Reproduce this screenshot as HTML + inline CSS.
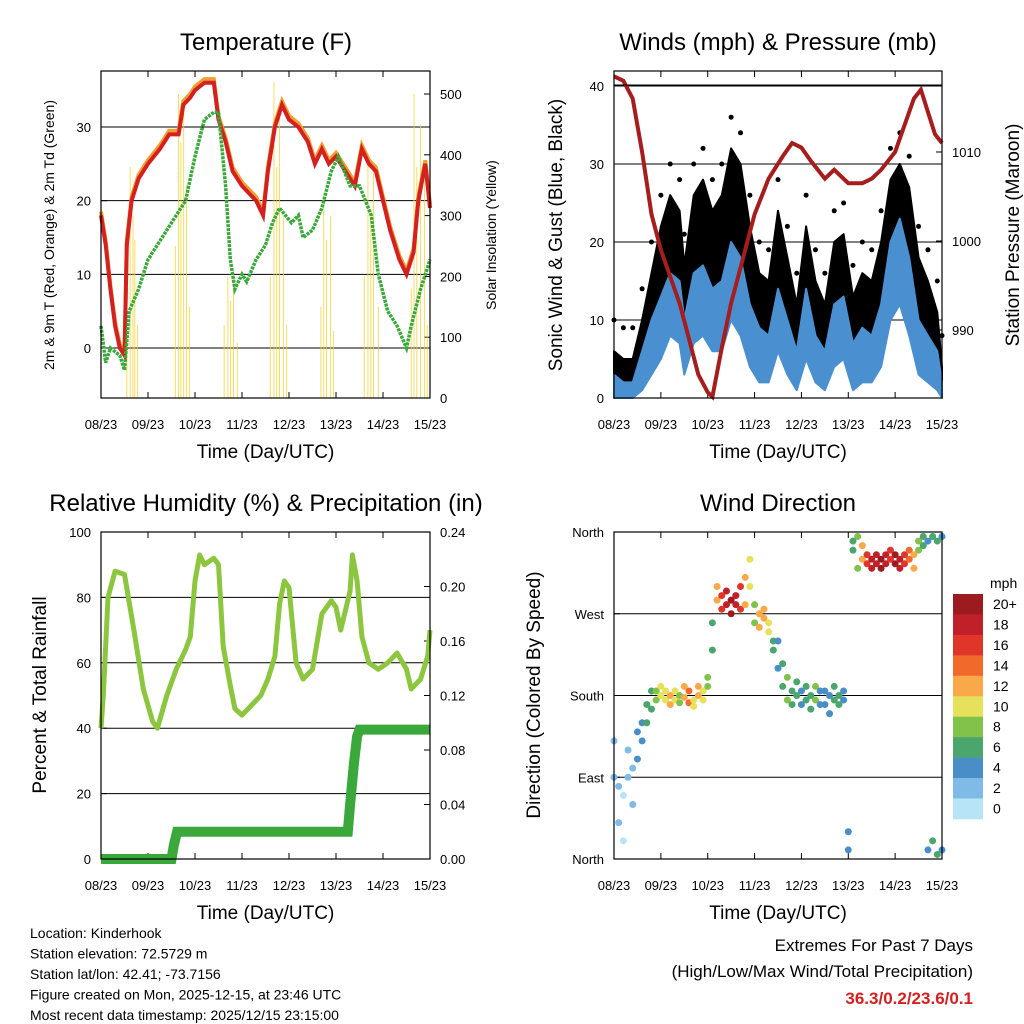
<!DOCTYPE html>
<html><head><meta charset="utf-8"><style>
body{margin:0;background:#fff;}
svg{display:block;font-family:"Liberation Sans",sans-serif;}
</style></head><body>
<svg id="c" width="1024" height="1024" viewBox="0 0 1024 1024"></svg>
<script>
// ---------- data ----------
const dayLabels=["08/23","09/23","10/23","11/23","12/23","13/23","14/23","15/23"];
const tTimes=[0,0.1,0.2,0.3,0.4,0.5,0.55,0.65,0.8,1.0,1.25,1.45,1.65,1.75,1.9,2.0,2.2,2.4,2.5,2.65,2.8,3.0,3.15,3.3,3.45,3.55,3.7,3.85,4.0,4.2,4.4,4.55,4.7,4.85,5.0,5.2,5.4,5.55,5.7,5.85,6.0,6.15,6.35,6.5,6.65,6.75,6.9,7.0];
const tempRed=[18,14,8,3,0,-1,14,20,23,25,27,29,29,33,34,35,36,36,31,28,24,22,21,20,18,24,30,33,31,30,28,25,27,25,26,24,22,27,25,24,20,16,12,10,13,20,25,19];
const tdTimes=[0,0.1,0.2,0.4,0.5,0.6,0.8,1.0,1.3,1.5,1.8,2.0,2.2,2.4,2.5,2.65,2.75,2.85,3.0,3.1,3.3,3.5,3.65,3.8,4.05,4.2,4.3,4.5,4.7,4.9,5.05,5.3,5.5,5.75,5.9,6.1,6.3,6.5,6.6,6.8,6.95,7.0];
const tempGreen=[3,-2,0,-1,-3,5,8,12,15,17,20,26,31,32,32,22,12,8,10,9,12,14,17,19,17,18,15,16,19,24,26,22,22,18,10,5,3,0,3,8,11,12];
const solarTimes=[0.55,0.62,0.68,0.72,0.78,1.58,1.65,1.7,1.76,1.82,1.88,2.62,2.7,2.76,2.82,2.9,3.6,3.68,3.74,3.8,3.88,3.95,4.68,4.74,4.8,4.88,4.95,5.6,5.68,5.74,5.8,5.9,6.6,6.66,6.72,6.8,6.88,6.94];
const solarVals=[150,380,300,260,120,250,500,420,480,350,150,120,200,160,210,90,200,520,380,480,300,120,150,330,260,300,110,200,400,300,380,150,180,500,380,450,360,120];
const windTimes=[0,0.2,0.4,0.6,0.8,1.0,1.2,1.4,1.5,1.7,1.9,2.1,2.3,2.5,2.7,2.9,3.1,3.3,3.5,3.7,3.9,4.1,4.3,4.5,4.7,4.9,5.1,5.3,5.5,5.7,5.9,6.1,6.3,6.5,6.7,6.9,7.0];
const windBlue=[3,2,2,6,10,13,16,15,10,16,17,14,15,20,18,12,9,8,14,10,6,14,8,6,12,13,7,9,8,12,20,23,18,10,8,6,2];
const windLow=[0,0,0,1,3,5,8,7,3,7,8,6,6,10,8,4,2,2,6,3,1,5,2,1,4,5,1,2,2,4,10,12,8,3,2,1,0];
const windGust=[6,5,5,10,16,22,26,24,17,26,28,24,26,32,30,22,16,15,24,18,12,22,15,12,20,21,13,16,15,20,28,30,27,18,15,11,4];
const presTimes=[0,0.2,0.4,0.6,0.8,1.0,1.2,1.4,1.6,1.8,2.0,2.1,2.3,2.5,2.7,3.0,3.3,3.6,3.8,4.0,4.2,4.5,4.7,5.0,5.3,5.5,5.7,6.0,6.2,6.4,6.55,6.7,6.85,7.0];
const pressure=[1018.5,1018,1016,1010,1003,999,996,993,989,985,983,982.5,988,993,997,1003,1007,1009.5,1011,1010.5,1009,1007,1008,1006.5,1006.5,1007,1008,1010,1013,1016,1017,1014.5,1012,1011];
const rhTimes=[0,0.05,0.15,0.3,0.5,0.7,0.9,1.0,1.1,1.2,1.4,1.6,1.8,1.9,2.0,2.1,2.2,2.4,2.5,2.6,2.75,2.85,3.0,3.2,3.4,3.55,3.7,3.8,3.9,4.0,4.15,4.3,4.5,4.7,4.9,5.0,5.1,5.3,5.35,5.45,5.55,5.7,5.9,6.1,6.3,6.5,6.6,6.8,6.95,7.0];
const rh=[40,50,80,88,87,70,52,47,42,40,50,58,64,68,85,93,90,92,90,65,53,46,44,47,50,55,62,78,85,83,60,55,58,75,79,77,70,82,93,85,68,60,58,60,63,58,52,55,62,70];
const prTimes=[0,1.5,1.55,1.62,3.0,5.25,5.3,5.38,5.45,5.5,7.0];
const precip=[0,0,0.01,0.02,0.02,0.02,0.04,0.07,0.09,0.095,0.095];
const dirTimes=[0,0.1,0.2,0.3,0.4,0.5,0.6,0.7,0.8,0.9,1.0,1.1,1.2,1.3,1.4,1.5,1.6,1.7,1.8,1.9,2.0,2.1,2.2,2.3,2.4,2.5,2.6,2.7,2.8,2.9,3.0,3.1,3.2,3.3,3.4,3.5,3.6,3.7,3.8,3.9,4.0,4.1,4.2,4.3,4.4,4.5,4.6,4.7,4.8,4.9,5.0,5.1,5.2,5.3,5.4,5.5,5.6,5.7,5.8,5.9,6.0,6.1,6.2,6.3,6.4,6.5,6.6,6.7,6.8,6.9,7.0];
const dirA=[90,80,70,90,100,110,130,150,165,175,180,175,180,185,180,178,172,175,180,185,190,230,285,290,280,285,290,275,310,330,260,270,275,260,230,210,190,175,185,180,170,190,180,175,185,170,180,175,170,185,10,340,320,330,335,330,325,330,335,330,325,330,335,330,320,350,355,10,20,5,355];
const dirB=[130,40,20,120,60,140,150,170,185,185,190,185,170,175,172,190,185,168,190,175,200,260,300,275,295,270,280,300,280,300,280,255,265,250,240,240,215,200,170,195,185,175,165,190,170,185,160,190,180,175,30,350,355,345,325,320,335,320,325,340,335,320,325,340,335,340,345,350,355,350,10];
const dirSpeed=[3,2,1,3,3,4,5,6,7,9,10,11,12,10,9,12,14,11,12,10,8,6,12,16,19,20,18,16,12,10,8,12,13,10,6,5,6,8,7,6,5,7,6,8,5,4,4,6,7,5,4,6,8,12,16,18,19,20,18,17,20,18,16,14,12,8,7,5,6,7,5];
const cbLabels=["20+","18","16","14","12","10","8","6","4","2","0"];
const cbColors=["#9b1b1e","#c0202a","#e0362a","#f26a2b","#f9a94a","#e6e05a","#80c24a","#4aa66c","#4a8ec8","#7fbbe6","#b8e4f7"];

// ---------- helpers ----------
const svg=document.getElementById('c');
const NS="http://www.w3.org/2000/svg";
function mk(tag,attrs,parent,txt){const e=document.createElementNS(NS,tag);for(const k in attrs)e.setAttribute(k,attrs[k]);if(txt!==undefined)e.textContent=txt;(parent||svg).appendChild(e);return e;}
function lin(d0,d1,r0,r1){return v=>r0+(v-d0)*(r1-r0)/(d1-d0);}
function speedColor(s){let i=Math.min(10,Math.floor(s/2));return cbColors[10-i];}

function panel(name,x0,y0,x1,y1,title,titleX){
  const g=mk('g',{});
  
  
  const t=mk('text',{x:titleX,y:y0-21,'font-size':24,'text-anchor':'middle'},g,title);
  
  
  const xs=lin(0,7,x0,x1);
  dayLabels.forEach((l,i)=>{
    const x=xs(i);
    mk('line',{x1:x,x2:x,y1:y1,y2:y1-6,stroke:'#000'},g);
    mk('line',{x1:x,x2:x,y1:y0,y2:y0+6,stroke:'#000'},g);
    const tl=mk('text',{x:x,y:y1+31,'font-size':13,'text-anchor':'middle'},g,l);
    
    
  });
  const xt=mk('text',{x:(x0+x1)/2,y:y1+60,'font-size':19,'text-anchor':'middle'},g,'Time (Day/UTC)');
  
  
  return {g,xs};
}
function frame(g,x0,y0,x1,y1){mk('rect',{x:x0,y:y0,width:x1-x0,height:y1-y0,fill:'none',stroke:'#000','stroke-width':1.2},g);}
function hgrid(g,x0,x1,y){mk('line',{x1:x0,x2:x1,y1:y,y2:y,stroke:'#000','stroke-width':1},g);}
function ytick(g,x,y,label,side,name){
  const dx=side==='l'?-1:1;
  mk('line',{x1:x,x2:x-dx*6,y1:y,y2:y,stroke:'#000'},g);
  const t=mk('text',{x:x+dx*10,y:y+5,'font-size':13,'text-anchor':side==='l'?'end':'start'},g,label);
  
  
}
function vtitle(g,x,y,txt,size,name){
  const t=mk('text',{x:x,y:y,'font-size':size,'text-anchor':'middle',transform:`rotate(-90 ${x} ${y})`},g,txt);
  
  
}
function path(g,xs,ys,tx,vals,attrs,name){
  let d='';tx.forEach((t,i)=>{d+=(i?'L':'M')+xs(t).toFixed(1)+','+ys(vals[i]).toFixed(1);});
  const p=mk('path',Object.assign({d:d,fill:'none'},attrs),g);
  
  
  return p;
}
function area(g,xs,ys,tx,lo,hi,fill,name){
  let d='';
  tx.forEach((t,i)=>{d+=(i?'L':'M')+xs(t).toFixed(1)+','+ys(hi[i]).toFixed(1);});
  for(let i=tx.length-1;i>=0;i--){d+='L'+xs(tx[i]).toFixed(1)+','+ys(lo[i]).toFixed(1);}
  const p=mk('path',{d:d+'Z',fill:fill,stroke:fill,'stroke-width':2,'stroke-linejoin':'round'},g);
  
  
  return p;
}

// ---------- Panel 1: Temperature ----------
(function(){
  const x0=101,y0=71,x1=430,y1=398;
  const P=panel('temperature-panel',x0,y0,x1,y1,'Temperature (F)',266);
  const g=P.g,xs=P.xs;
  const ys=lin(0,30,348,127), ys2=lin(0,500,398,94);
  [0,10,20,30].forEach(v=>{hgrid(g,x0,x1,ys(v));ytick(g,x0,ys(v),v,'l','y-tick-label');});
  [0,100,200,300,400,500].forEach(v=>ytick(g,x1,ys2(v),v,'r','y2-tick-label'));
  const sg=mk('g',{},g);
  
  
  solarTimes.forEach((t,i)=>{
    const x=xs(t);
    const l=mk('line',{x1:x,x2:x,y1:y1,y2:ys2(solarVals[i]),stroke:'#f5d33a','stroke-width':0.8},sg);
    
    
  });
  path(g,xs,ys,tTimes,tempRed.map(v=>v+0.5),{stroke:'#f0a030','stroke-width':4},'temp-9m-orange-series');
  path(g,xs,ys,tTimes,tempRed,{stroke:'#d42020','stroke-width':4},'temp-2m-red-series');
  path(g,xs,ys,tdTimes,tempGreen,{stroke:'#3aa83a','stroke-width':3.5,'stroke-dasharray':'3 1'},'dewpoint-green-series');
  frame(g,x0,y0,x1,y1);
  vtitle(g,54,235,'2m & 9m T (Red, Orange) & 2m Td (Green)',14,'y-axis-title');
  vtitle(g,496,235,'Solar Insolation (Yellow)',14,'y2-axis-title');
})();

// ---------- Panel 2: Winds ----------
(function(){
  const x0=614,y0=71,x1=942,y1=398;
  const P=panel('winds-panel',x0,y0,x1,y1,'Winds (mph) & Pressure (mb)',778);
  const g=P.g,xs=P.xs;
  const ys=lin(0,40,398,86), ys2=lin(990,1010,330,152);
  [0,10,20,30,40].forEach(v=>{hgrid(g,x0,x1,ys(v));ytick(g,x0,ys(v),v,'l','y-tick-label');});
  [990,1000,1010].forEach(v=>ytick(g,x1,ys2(v),v,'r','y2-tick-label'));
  const gg=mk('g',{},g);
  
  
  area(gg,xs,ys,windTimes,windBlue,windGust,'#000','gust-band');
  windTimes.forEach((t,i)=>{
    const c=mk('circle',{cx:xs(t),cy:ys(windGust[i]+4),r:2.5,fill:'#000'},gg);
    
    
  });
  area(g,xs,ys,windTimes,windLow,windBlue,'#4a90d0','wind-speed-series');
  path(g,xs,ys2,presTimes,pressure,{stroke:'#a51d1d','stroke-width':4},'pressure-series');
  mk('line',{x1:x0,x2:x1,y1:y0+14,y2:y0+14,stroke:'#000'},g);
  frame(g,x0,y0,x1,y1);
  vtitle(g,562,235,'Sonic Wind & Gust (Blue, Black)',19,'y-axis-title');
  vtitle(g,1019,235,'Station Pressure (Maroon)',19,'y2-axis-title');
})();

// ---------- Panel 3: RH ----------
(function(){
  const x0=101,y0=532,x1=430,y1=859;
  const P=panel('humidity-panel',x0,y0,x1,y1,'Relative Humidity (%) & Precipitation (in)',266);
  const g=P.g,xs=P.xs;
  const ys=lin(0,100,859,532), ys2=lin(0,0.24,859,532);
  [0,20,40,60,80,100].forEach(v=>{if(v>0&&v<100)hgrid(g,x0,x1,ys(v));ytick(g,x0,ys(v),v,'l','y-tick-label');});
  [0,0.04,0.08,0.12,0.16,0.20,0.24].forEach(v=>ytick(g,x1,ys2(v),v.toFixed(2),'r','y2-tick-label'));
  path(g,xs,ys,rhTimes,rh,{stroke:'#8cc63f','stroke-width':5,'stroke-linejoin':'round'},'humidity-series');
  path(g,xs,ys2,prTimes,precip,{stroke:'#3aa83a','stroke-width':10},'precip-series');
  frame(g,x0,y0,x1,y1);
  vtitle(g,46,695,'Percent & Total Rainfall',19,'y-axis-title');
})();

// ---------- Panel 4: Wind direction ----------
(function(){
  const x0=614,y0=532,x1=942,y1=859;
  const P=panel('wind-direction-panel',x0,y0,x1,y1,'Wind Direction',778);
  const g=P.g,xs=P.xs;
  const ys=lin(0,360,859,532);
  [[0,'North'],[90,'East'],[180,'South'],[270,'West'],[360,'North']].forEach(([v,l])=>{if(v>0&&v<360)hgrid(g,x0,x1,ys(v));ytick(g,x0,ys(v),l,'l','y-tick-label');});
  const pg=mk('g',{},g);
  
  
  dirTimes.forEach((t,i)=>{
    [dirA[i],dirB[i]].forEach(d=>{
      const c=mk('circle',{cx:xs(t),cy:ys(d),r:3.5,fill:speedColor(dirSpeed[i])},pg);
      
      
    });
  });
  frame(g,x0,y0,x1,y1);
  vtitle(g,540,695,'Direction (Colored By Speed)',19,'y-axis-title');
  const cb=mk('g',{},svg);
  
  
  const u=mk('text',{x:990,y:588,'font-size':14},cb,'mph');
  
  
  cbLabels.forEach((l,i)=>{
    const y=594+i*20.45;
    const r=mk('rect',{x:953,y:y,width:30,height:20.8,fill:cbColors[i]},cb);
    
    
    const t=mk('text',{x:993,y:y+15,'font-size':14},cb,l);
    
    
  });
})();

// ---------- footer text ----------
const info=["Location: Kinderhook","Station elevation: 72.5729 m","Station lat/lon: 42.41; -73.7156","Figure created on Mon, 2025-12-15, at 23:46 UTC","Most recent data timestamp: 2025/12/15 23:15:00"];
info.forEach((s,i)=>{
  const t=mk('text',{x:30,y:938+i*20.5,'font-size':14},svg,s);
  
  
});
const e1=mk('text',{x:973,y:951,'font-size':17,'text-anchor':'end'},svg,'Extremes For Past 7 Days');


const e2=mk('text',{x:973,y:977,'font-size':17,'text-anchor':'end'},svg,'(High/Low/Max Wind/Total Precipitation)');


const e3=mk('text',{x:973,y:1004,'font-size':17,'text-anchor':'end','font-weight':'bold',fill:'#d42020'},svg,'36.3/0.2/23.6/0.1');


</script>
</body></html>
